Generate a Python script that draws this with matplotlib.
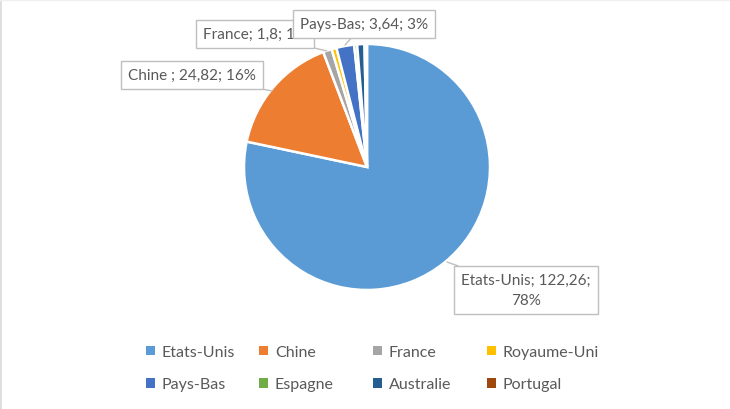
import matplotlib
matplotlib.use('Agg')
import matplotlib.pyplot as plt
from matplotlib.patches import Patch

# data
countries = ['Etats-Unis', 'Chine', 'France', 'Royaume-Uni',
             'Pays-Bas', 'Espagne', 'Australie', 'Portugal']
values = [122.26, 24.82, 1.8, 1.0, 3.64, 0.6, 1.5, 0.5]
colors = ['#5B9BD5', '#ED7D31', '#A5A5A5', '#FFC000',
          '#4472C4', '#70AD47', '#255E91', '#9E480E']

# only these slices carry a label in the original
labelled = ['Etats-Unis', 'Chine', 'France', 'Pays-Bas']
label_names = ['Etats-Unis', 'Chine ', 'France', 'Pays-Bas']
pct_shown = [78, 16, 1, 3]

W, H = 730, 410
plt.rcParams['font.family'] = ['Lato', 'DejaVu Sans']
txt_color = '#595959'

fig = plt.figure(figsize=(W / 100, H / 100), dpi=100)
ax = fig.add_axes([0, 0, 1, 1])


def py(y):
    # pixel row (from top) -> data y
    return H - y


wedges, _ = ax.pie(values, colors=colors, startangle=90, counterclock=False,
                   center=(367, py(168)), radius=123,
                   wedgeprops=dict(edgecolor='white', linewidth=1.8))
ax.set_xlim(0, W)
ax.set_ylim(0, H)
ax.set_aspect('auto')
ax.axis('off')

# label boxes: (text centre x, y), point on the pie
box_pos = {
    'Etats-Unis': ((526, 291), (447, 263)),
    'Chine': ((192, 76), (272, 92)),
    'France': ((255, 35), (327, 52)),
    'Pays-Bas': ((364, 25), (345, 46)),
}
zorders = {'Etats-Unis': 5, 'Chine': 5, 'France': 4, 'Pays-Bas': 6}
bbox = dict(boxstyle='square,pad=0.45', fc='white', ec='#BFBFBF', lw=1)

for name, disp, pct in zip(labelled, label_names, pct_shown):
    val = values[countries.index(name)]
    sval = ('%g' % val).replace('.', ',')
    if name == 'Etats-Unis':
        s = f'{disp}; {sval};\n{pct}%'
    else:
        s = f'{disp}; {sval}; {pct}%'
    (tx, ty), (px, pyy) = box_pos[name]
    ax.annotate(s, xy=(px, py(pyy)), xytext=(tx, py(ty)),
                ha='center', va='center', fontsize=11, color=txt_color,
                linespacing=1.5, bbox=bbox, zorder=zorders[name],
                arrowprops=dict(arrowstyle='-', color='#BFBFBF', lw=1,
                                shrinkA=0, shrinkB=0))

# legend: 4 columns of 2 entries
col_x = [146, 259, 373, 487]
for i, x in enumerate(col_x):
    handles = [Patch(facecolor=colors[i], edgecolor='none'),
               Patch(facecolor=colors[i + 4], edgecolor='none')]
    leg = fig.legend(handles, [countries[i], countries[i + 4]],
                     loc='upper left', bbox_to_anchor=(x / W, 1 - 346 / H),
                     frameon=False, fontsize=11.5, labelcolor=txt_color,
                     handlelength=0.55, handleheight=0.55, handletextpad=0.45,
                     labelspacing=1.15, borderpad=0, borderaxespad=0)

# thin border at the left/top edge
ax.plot([0.5, 0.5], [0, H], color='#D9D9D9', lw=1.2)
ax.plot([0, W], [H - 0.5, H - 0.5], color='#F0F0F0', lw=1)

fig.savefig('out.png', dpi=100)
